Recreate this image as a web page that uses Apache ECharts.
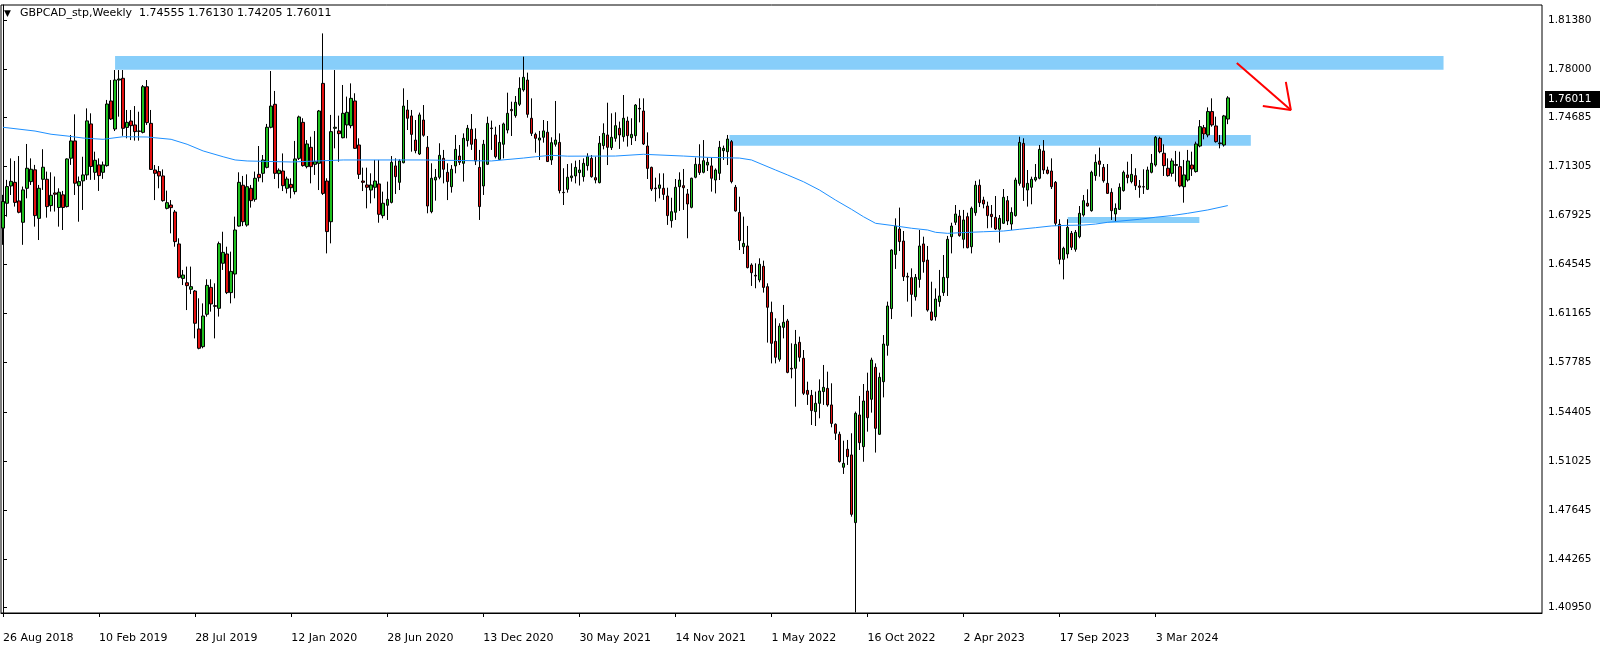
<!DOCTYPE html>
<html><head><meta charset="utf-8">
<script src="https://cdn.jsdelivr.net/npm/echarts@6/dist/echarts.min.js"></script>
<style>html,body{margin:0;padding:0;background:#fff}#c{width:1604px;height:651px}</style>
</head><body><div id="c"></div>
<script>
// ---- data (weekly GBPCAD) ----
const startDateUTC = Date.UTC(2018, 7, 26);   // first weekly bar: 26 Aug 2018
const slotCount = 385;                         // bars + empty space to the right
const openP = [
1.6705,1.6876,1.6995,1.7020,1.6892,1.6745,1.6979,1.7025,1.7106,1.6772,
1.7041,1.7041,1.6860,1.6947,1.6847,1.6934,1.6853,1.7186,1.7305,1.6997,
1.7030,1.7071,1.7422,1.7089,1.7140,1.7089,1.7135,1.7580,1.7387,1.7724,
1.7736,1.7398,1.7442,1.7415,1.7373,1.7364,1.7678,1.7426,1.7105,1.7094,
1.7064,1.6841,1.6864,1.6816,1.6596,1.6359,1.6329,1.6284,1.6272,1.6011,
1.5889,1.6112,1.6297,1.6171,1.6153,1.6463,1.6527,1.6261,1.6389,1.6719,
1.7000,1.6726,1.6979,1.6903,1.7075,1.7082,1.7123,1.7399,1.7557,1.7080,
1.7098,1.6979,1.7006,1.6956,1.7185,1.7433,1.7128,1.7261,1.7144,1.7151,
1.7701,1.7029,1.6749,1.7392,1.7374,1.7327,1.7415,1.7410,1.7580,1.7277,
1.7029,1.7002,1.6967,1.6986,1.7009,1.6791,1.6862,1.6882,1.7133,1.7020,
1.7155,1.7518,1.7477,1.7311,1.7215,1.7449,1.7261,1.6818,1.7036,1.7055,
1.7185,1.7089,1.6990,1.7133,1.7201,1.7151,1.7307,1.7385,1.7316,1.7123,
1.6995,1.7144,1.7394,1.7346,1.7178,1.7282,1.7380,1.7522,1.7479,1.7557,
1.7656,1.7724,1.7461,1.7350,1.7311,1.7330,1.7365,1.7174,1.7282,1.7295,
1.6951,1.6972,1.7052,1.7064,1.7087,1.7059,1.7135,1.7185,1.7052,1.7018,
1.7273,1.7346,1.7259,1.7323,1.7392,1.7334,1.7442,1.7327,1.7341,1.7529,
1.7511,1.7270,1.7123,1.6981,1.6979,1.6979,1.6926,1.6756,1.6814,1.6990,
1.6997,1.6940,1.6848,1.7055,1.7144,1.7089,1.7139,1.7133,1.7036,1.7082,
1.7238,1.7231,1.7300,1.6986,1.6813,1.6577,1.6582,1.6451,1.6380,1.6348,
1.6442,1.6302,1.6125,1.5926,1.5802,1.6022,1.6066,1.5740,1.5740,1.5919,
1.5809,1.5588,1.5554,1.5442,1.5499,1.5580,1.5602,1.5488,1.5355,1.5286,
1.5059,1.5183,1.5144,1.4678,1.5419,1.5201,1.5584,1.5527,1.5747,1.5286,
1.5648,1.5898,1.6151,1.6524,1.6699,1.6616,1.6373,1.6364,1.6233,1.6352,
1.6596,1.6485,1.6128,1.6095,1.6199,1.6261,1.6364,1.6646,1.6745,1.6788,
1.6628,1.6784,1.6577,1.6811,1.7000,1.6898,1.6857,1.6800,1.6779,1.6697,
1.6738,1.6894,1.6733,1.6791,1.7013,1.7288,1.6967,1.6986,1.7036,1.7048,
1.7236,1.7105,1.7098,1.7020,1.6731,1.6490,1.6527,1.6669,1.6559,1.6646,
1.6795,1.6876,1.6825,1.7066,1.7167,1.7123,1.7013,1.6951,1.6802,1.6834,
1.6963,1.7071,1.7025,1.7066,1.6995,1.6990,1.6972,1.7089,1.7139,1.7323,
1.7220,1.7117,1.7082,1.7142,1.7128,1.6990,1.7036,1.7139,1.7094,1.7270,
1.7396,1.7346,1.7507,1.7408,1.7291,1.7277,1.74555];
const highP = [
1.6934,1.7037,1.7185,1.7167,1.7201,1.6991,1.7284,1.7185,1.7140,1.7002,
1.7248,1.7094,1.7089,1.7060,1.6979,1.6961,1.7185,1.7346,1.7488,1.7060,
1.7196,1.7529,1.7495,1.7231,1.7185,1.7163,1.7587,1.7724,1.7793,1.7793,
1.7793,1.7518,1.7518,1.7545,1.7506,1.7690,1.7724,1.7518,1.7139,1.7132,
1.7109,1.6963,1.6898,1.6830,1.6635,1.6417,1.6440,1.6440,1.6279,1.6222,
1.6187,1.6353,1.6353,1.6325,1.6612,1.6680,1.6577,1.6543,1.6784,1.7089,
1.7064,1.7075,1.7002,1.7094,1.7270,1.7208,1.7422,1.7786,1.7649,1.7116,
1.7219,1.7059,1.7048,1.7305,1.7479,1.7461,1.7311,1.7334,1.7373,1.7518,
1.8045,1.7048,1.7484,1.7793,1.7479,1.7690,1.7610,1.7701,1.7633,1.7323,
1.7121,1.7121,1.7082,1.7174,1.7174,1.6956,1.7025,1.7201,1.7185,1.7178,
1.7667,1.7587,1.7518,1.7449,1.7500,1.7552,1.7339,1.7151,1.7112,1.7289,
1.7243,1.7151,1.7139,1.7346,1.7277,1.7357,1.7415,1.7490,1.7392,1.7243,
1.7312,1.7472,1.7445,1.7403,1.7415,1.7431,1.7637,1.7575,1.7614,1.7743,
1.7885,1.7775,1.7598,1.7362,1.7374,1.7449,1.7442,1.7330,1.7580,1.7357,
1.7117,1.7146,1.7151,1.7169,1.7174,1.7185,1.7220,1.7208,1.7197,1.7339,
1.7426,1.7568,1.7495,1.7502,1.7438,1.7621,1.7472,1.7461,1.7559,1.7598,
1.7598,1.7364,1.7128,1.7052,1.7082,1.7082,1.6983,1.6914,1.7043,1.7089,
1.7112,1.6974,1.7052,1.7190,1.7282,1.7311,1.7190,1.7190,1.7116,1.7305,
1.7273,1.7346,1.7311,1.7002,1.6921,1.6784,1.6720,1.6463,1.6463,1.6497,
1.6481,1.6325,1.6199,1.6084,1.6050,1.6176,1.6080,1.5912,1.6004,1.5958,
1.5866,1.5648,1.5591,1.5580,1.5664,1.5763,1.5717,1.5637,1.5361,1.5304,
1.5242,1.5247,1.5293,1.5442,1.5550,1.5632,1.5710,1.5813,1.5774,1.5710,
1.5969,1.6199,1.6559,1.6772,1.6846,1.6685,1.6398,1.6428,1.6389,1.6692,
1.6646,1.6582,1.6336,1.6290,1.6417,1.6520,1.6651,1.6742,1.6864,1.6830,
1.6830,1.6811,1.6853,1.7030,1.7040,1.6921,1.6887,1.6864,1.6926,1.6795,
1.6974,1.6926,1.6848,1.7052,1.7334,1.7323,1.7105,1.7059,1.7146,1.7277,
1.7311,1.7128,1.7185,1.7029,1.6766,1.6577,1.6766,1.6685,1.6692,1.6857,
1.6933,1.6972,1.7100,1.7213,1.7259,1.7146,1.7146,1.6979,1.6875,1.7013,
1.7101,1.7162,1.7215,1.7117,1.7036,1.7110,1.7128,1.7215,1.7339,1.7334,
1.7282,1.7185,1.7185,1.7236,1.7231,1.7174,1.7243,1.7231,1.7300,1.7449,
1.7415,1.7536,1.7598,1.7472,1.7346,1.7484,1.76130];
const lowP = [
1.6590,1.6784,1.6933,1.6853,1.6807,1.6590,1.6910,1.7002,1.6715,1.6623,
1.6968,1.6777,1.6819,1.6819,1.6715,1.6692,1.6847,1.7140,1.6933,1.6749,
1.6830,1.7037,1.7037,1.7037,1.6961,1.7044,1.7128,1.7449,1.7373,1.7472,
1.7340,1.7323,1.7311,1.7307,1.7307,1.7357,1.7415,1.7105,1.6898,1.6979,
1.6887,1.6834,1.6669,1.6577,1.6359,1.6313,1.6141,1.6251,1.5946,1.5871,
1.5878,1.6096,1.6130,1.5946,1.6096,1.6417,1.6251,1.6187,1.6222,1.6715,
1.6719,1.6715,1.6846,1.6887,1.7025,1.7020,1.7116,1.7392,1.7043,1.6979,
1.6960,1.6944,1.6910,1.6937,1.7174,1.7128,1.7116,1.7013,1.7071,1.6967,
1.6933,1.6531,1.6600,1.7254,1.7162,1.7323,1.7323,1.7392,1.7250,1.7043,
1.6960,1.6841,1.6875,1.6910,1.6742,1.6772,1.6761,1.6875,1.6940,1.6967,
1.7151,1.7380,1.7231,1.7220,1.7208,1.7334,1.6807,1.6807,1.6894,1.7041,
1.7013,1.6898,1.6949,1.7082,1.7139,1.7025,1.7266,1.7243,1.7139,1.6761,
1.6933,1.7139,1.7243,1.7185,1.7174,1.7185,1.7357,1.7339,1.7465,1.7545,
1.7644,1.7465,1.7339,1.7224,1.7174,1.7293,1.7160,1.7140,1.7266,1.6944,
1.6864,1.6949,1.7025,1.7013,1.6998,1.7025,1.7101,1.7052,1.7013,1.7013,
1.7247,1.7139,1.7243,1.7300,1.7250,1.7300,1.7266,1.7277,1.7304,1.7433,
1.7277,1.7043,1.6960,1.6887,1.6910,1.6899,1.6727,1.6708,1.6761,1.6823,
1.6830,1.6635,1.6841,1.7048,1.7071,1.7082,1.7098,1.6956,1.6944,1.7036,
1.7174,1.7139,1.7013,1.6818,1.6554,1.6527,1.6428,1.6307,1.6291,1.6332,
1.6261,1.5917,1.5774,1.5774,1.5786,1.5946,1.5706,1.5671,1.5476,1.5786,
1.5556,1.5488,1.5350,1.5343,1.5396,1.5488,1.5476,1.5334,1.5247,1.5091,
1.5013,1.5075,1.4719,1.4060,1.5178,1.5097,1.5304,1.5435,1.5160,1.5281,
1.5540,1.5827,1.6079,1.6424,1.6547,1.6341,1.6199,1.6095,1.6206,1.6295,
1.6398,1.6130,1.6068,1.6068,1.6164,1.6238,1.6238,1.6531,1.6726,1.6646,
1.6566,1.6566,1.6531,1.6790,1.6850,1.6841,1.6704,1.6708,1.6692,1.6605,
1.6733,1.6726,1.6692,1.6784,1.6997,1.6892,1.6853,1.6869,1.7025,1.7041,
1.7077,1.7075,1.6974,1.6720,1.6456,1.6352,1.6497,1.6554,1.6543,1.6635,
1.6784,1.6853,1.6818,1.7031,1.7059,1.7018,1.6940,1.6761,1.6749,1.6830,
1.6956,1.7013,1.7013,1.6967,1.6914,1.6940,1.6967,1.7082,1.7128,1.7220,
1.7064,1.7059,1.7059,1.7025,1.6986,1.6880,1.7025,1.7064,1.7087,1.7261,
1.7316,1.7330,1.7403,1.7293,1.7254,1.7266,1.74205];
const closeP = [
1.6888,1.6991,1.7027,1.6882,1.6814,1.6968,1.7117,1.7110,1.6791,1.6979,
1.7124,1.6853,1.6931,1.6938,1.6952,1.6847,1.7181,1.7305,1.7014,1.7025,
1.7071,1.7443,1.7129,1.7172,1.7066,1.7140,1.7559,1.7456,1.7724,1.7731,
1.7392,1.7433,1.7410,1.7369,1.7371,1.7678,1.7431,1.7109,1.7082,1.7064,
1.6894,1.6880,1.6846,1.6612,1.6366,1.6382,1.6309,1.6302,1.6050,1.5878,
1.6100,1.6311,1.6183,1.6167,1.6598,1.6538,1.6261,1.6407,1.6692,1.7020,
1.6749,1.6990,1.6894,1.7048,1.7052,1.7174,1.7399,1.7545,1.7082,1.7103,
1.6997,1.7043,1.6983,1.7181,1.7470,1.7135,1.7284,1.7128,1.7162,1.7511,
1.6944,1.6681,1.7369,1.7399,1.7355,1.7495,1.7502,1.7598,1.7254,1.7075,
1.7020,1.6986,1.7002,1.7029,1.6800,1.6876,1.6903,1.7158,1.7059,1.7167,
1.7545,1.7461,1.7350,1.7238,1.7484,1.7344,1.6857,1.7048,1.7055,1.7206,
1.7110,1.7025,1.7110,1.7247,1.7158,1.7323,1.7392,1.7282,1.7167,1.6853,
1.7282,1.7426,1.7390,1.7197,1.7295,1.7422,1.7495,1.7513,1.7571,1.7667,
1.7743,1.7488,1.7357,1.7323,1.7325,1.7374,1.7163,1.7293,1.7311,1.6963,
1.6949,1.7055,1.7064,1.7123,1.7105,1.7151,1.7197,1.7059,1.7036,1.7289,
1.7357,1.7261,1.7330,1.7410,1.7346,1.7461,1.7341,1.7350,1.7552,1.7525,
1.7284,1.7116,1.6974,1.6976,1.7002,1.6937,1.6791,1.6818,1.6986,1.7036,
1.6983,1.6871,1.7048,1.7144,1.7087,1.7169,1.7158,1.7048,1.7105,1.7261,
1.7254,1.7318,1.7025,1.6823,1.6619,1.6600,1.6433,1.6398,1.6375,1.6456,
1.6297,1.6160,1.5912,1.5816,1.6031,1.6057,1.5712,1.5735,1.5905,1.5816,
1.5568,1.5561,1.5449,1.5499,1.5584,1.5609,1.5488,1.5361,1.5293,1.5098,
1.5086,1.5132,1.4735,1.5430,1.5228,1.5515,1.5400,1.5797,1.5327,1.5678,
1.5907,1.6169,1.6554,1.6719,1.6612,1.6371,1.6368,1.6249,1.6366,1.6582,
1.6474,1.6141,1.6073,1.6217,1.6238,1.6366,1.6628,1.6719,1.6802,1.6653,
1.6761,1.6570,1.6841,1.7000,1.6880,1.6871,1.6791,1.6784,1.6699,1.6772,
1.6917,1.6754,1.6813,1.7036,1.7295,1.6986,1.7013,1.7041,1.7054,1.7247,
1.7105,1.7082,1.6990,1.6738,1.6490,1.6566,1.6710,1.6573,1.6676,1.6807,
1.6894,1.6857,1.7089,1.7158,1.7144,1.7031,1.6944,1.6825,1.6841,1.6986,
1.7089,1.7052,1.7075,1.6997,1.6986,1.6988,1.7105,1.7151,1.7330,1.7231,
1.7135,1.7066,1.7167,1.7137,1.6995,1.7071,1.7167,1.7112,1.7284,1.7403,
1.7353,1.7507,1.7415,1.7300,1.7286,1.7477,1.76011];
// moving average line read at points: [bar index, price]
const maPoints = [[0,1.7399],[8,1.7373],[12,1.7351],[16,1.7339],[20,1.7325],[25,1.7316],[30,1.7334],[36,1.7332],[42,1.7316],[46,1.7282],[50,1.7236],[55,1.7196],[58,1.7174],[61,1.7167],[72,1.7160],[85,1.7174],[105,1.7174],[122,1.7167],[130,1.7187],[133,1.7196],[137,1.7206],[141,1.7200],[153,1.7201],[160,1.7213],[170,1.7201],[176,1.7192],[184,1.7187],[187,1.7174],[193,1.7105],[196,1.7071],[200,1.7024],[204,1.6967],[208,1.6898],[212,1.6834],[215,1.6783],[218,1.6738],[223,1.6720],[227,1.6704],[231,1.6692],[233,1.6676],[236,1.6669],[239,1.6673],[245,1.6680],[250,1.6685],[254,1.6697],[258,1.6708],[262,1.6720],[266,1.6724],[270,1.6726],[273,1.6733],[276,1.6745],[284,1.6766],[288,1.6780],[292,1.6791],[296,1.6807],[301,1.6830],[306,1.6860]];
// blue zones (bar index from/to, price low/high)
const zoneFrom = [28, 181.5, 266];
const zoneTo   = [359.9, 311.75, 298.9];
const zoneLow  = [1.77952, 1.72721, 1.67401];
const zoneHigh = [1.78895, 1.73458, 1.67814];
// red arrow (bar index, price)
const arrowShaft = [[308.25,1.7841],[321.75,1.7518]];
const arrowHead  = [[320.5,1.7711],[321.75,1.7518],[314.75,1.7545]];
const yTickValues = [1.40950,1.44265,1.47645,1.51025,1.54405,1.57785,1.61165,1.64545,1.67925,1.71305,1.74685,1.78000,1.81380];
const lastPrice = 1.76011;
const titleText = 'GBPCAD_stp,Weekly  1.74555 1.76130 1.74205 1.76011';
const dateLabelEvery = 24, lastDateLabel = 288;

// ---- build ----
const MON = ['Jan','Feb','Mar','Apr','May','Jun','Jul','Aug','Sep','Oct','Nov','Dec'];
const categories = [];
for (let i = 0; i < slotCount; i++) {
  const d = new Date(startDateUTC + i * 7 * 86400000);
  categories.push(d.getUTCDate() + ' ' + MON[d.getUTCMonth()] + ' ' + d.getUTCFullYear());
}
const candles = openP.map((o, i) => [o, closeP[i], lowP[i], highP[i]]);
const showDate = (i) => i % dateLabelEvery === 0 && i <= lastDateLabel;

const titleGraphics = [
  { type: 'text', left: 4, top: 9, style: { text: '\u25BC', fontSize: 9, fill: '#000', fontFamily: 'DejaVu Sans' } },
  { type: 'text', left: 20, top: 8, style: { text: titleText, fontSize: 11, fill: '#000', fontFamily: 'DejaVu Sans' } }
];

const chart = echarts.init(document.getElementById('c'));
chart.setOption({
  animation: false,
  backgroundColor: '#fff',
  textStyle: { fontFamily: 'DejaVu Sans' },
  grid: { left: 1, right: 62, top: 5, bottom: 38, show: true, borderColor: '#000', borderWidth: 1, backgroundColor: '#fff' },
  xAxis: [{
    type: 'category', data: categories, boundaryGap: true,
    axisLine: { lineStyle: { color: '#000', width: 1 } },
    axisTick: { show: true, interval: (i) => showDate(i), alignWithLabel: true, length: 4, lineStyle: { color: '#000' } },
    axisLabel: { interval: (i) => showDate(i), align: 'left', color: '#000', fontSize: 11, fontFamily: 'DejaVu Sans', margin: 20 },
    splitLine: { show: false }
  }, {
    type: 'value', min: -0.5, max: slotCount - 0.5, show: false
  }],
  yAxis: {
    type: 'value', position: 'right', min: 1.4056, max: 1.82405, scale: true,
    axisLine: { show: true, lineStyle: { color: '#000' } },
    axisTick: { show: true, length: 4, customValues: yTickValues, lineStyle: { color: '#000' } },
    axisLabel: { customValues: yTickValues, formatter: (v) => v.toFixed(5), color: '#000', fontSize: 10.5, fontFamily: 'DejaVu Sans', margin: 6 },
    splitLine: { show: false }
  },
  graphic: titleGraphics,
  series: [{
    type: 'custom', xAxisIndex: 1, z: 1, silent: true,
    data: zoneFrom.map((f, i) => [f, zoneTo[i], zoneLow[i], zoneHigh[i]]),
    renderItem: (params, api) => {
      const a = api.coord([api.value(0), api.value(3)]);
      const b = api.coord([api.value(1), api.value(2)]);
      return { type: 'rect', shape: { x: a[0], y: a[1], width: b[0] - a[0], height: b[1] - a[1] }, style: { fill: '#87CEFA' } };
    }
  }, {
    type: 'candlestick', xAxisIndex: 0, z: 2, barWidth: 3,
    data: candles,
    itemStyle: { color: '#1ec01e', color0: '#e41010', borderColor: '#000', borderColor0: '#000', borderWidth: 1 }
  }, {
    type: 'line', xAxisIndex: 1, z: 3, data: maPoints, symbol: 'none', silent: true,
    lineStyle: { color: '#1E90FF', width: 1 }
  }, {
    type: 'line', xAxisIndex: 1, z: 4, data: arrowShaft, symbol: 'none', silent: true,
    lineStyle: { color: '#ff0000', width: 2 }
  }, {
    type: 'line', xAxisIndex: 1, z: 4, data: arrowHead, symbol: 'none', silent: true,
    lineStyle: { color: '#ff0000', width: 2 }
  }]
});
// current-price tag on the price axis, placed through the axis scale
const tagY = Math.round(chart.convertToPixel({ yAxisIndex: 0 }, lastPrice));
chart.setOption({
  graphic: titleGraphics.concat([
    { type: 'rect', left: 1545, top: tagY - 7, shape: { width: 55, height: 17 }, style: { fill: '#000' }, z: 10 },
    { type: 'text', left: 1548, top: tagY - 4, style: { text: lastPrice.toFixed(5), fontSize: 10.5, fill: '#fff', fontFamily: 'DejaVu Sans' }, z: 11 }
  ])
});
</script>
</body></html>
